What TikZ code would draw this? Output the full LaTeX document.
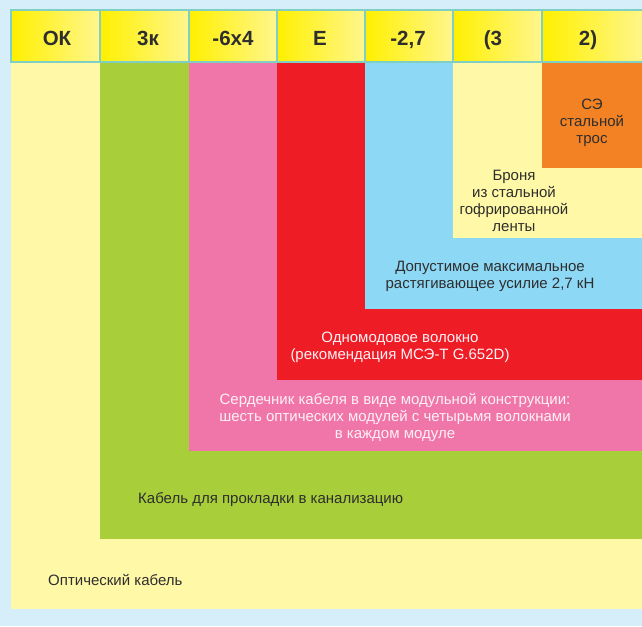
\documentclass[tikz,border=0pt]{standalone}
\usepackage{fontspec}
\setmainfont{Liberation Sans}
\definecolor{bgblue}{HTML}{D5EEFA}
\definecolor{cream}{HTML}{FFF8A6}
\definecolor{cgreen}{HTML}{A8CF3A}
\definecolor{cpink}{HTML}{F076AA}
\definecolor{cred}{HTML}{EE1D25}
\definecolor{cblue}{HTML}{8DD8F5}
\definecolor{corange}{HTML}{F28223}
\definecolor{hborder}{HTML}{80CFC5}
\definecolor{hyelA}{HTML}{FFF000}
\definecolor{hyelB}{HTML}{FFF68E}
\definecolor{dtext}{HTML}{2E2E2E}
\definecolor{ltext}{HTML}{FFF0F5}
\begin{document}
\begin{tikzpicture}[x=1pt,y=-1pt,
  hcell/.style={draw=hborder,line width=2pt,left color=hyelA,right color=hyelB},
  htext/.style={font=\fontsize{20.5}{22}\selectfont\bfseries,text=dtext,inner sep=0pt,anchor=base},
  btext/.style={font=\fontsize{15}{17}\selectfont,align=center,inner sep=0pt,text=dtext},
  wtext/.style={btext,text=ltext}]
\fill[bgblue] (0,0) rectangle (642,626);
\useasboundingbox (0,0) rectangle (642,626);
% nested regions
\fill[cream]   (11,63) rectangle (642,609);
\fill[cgreen]  (100,63) rectangle (642,539);
\fill[cpink]   (189,63) rectangle (642,451);
\fill[cred]    (277,63) rectangle (642,380);
\fill[cblue]   (365,63) rectangle (642,309);
\fill[cream]   (453,63) rectangle (642,238);
\fill[corange] (542,63) rectangle (642,168);
% header cells
\foreach \a/\b in {11/100,100/189,189/277,277/365,365/453,453/542,542/646}
  \path[hcell] (\a,10) rectangle (\b,62);
\node[htext] (t1) at (57,45.5) {ОК};
\node[htext] (t2) at (148,45.5) {3к};
\node[htext] (t3) at (233,45.5) {-6х4};
\node[htext] (t4) at (320,45.5) {Е};
\node[htext] (t5) at (408,45.5) {-2,7};
\node[htext] (t6) at (493,45.5) {(3};
\node[htext] (t7) at (588,45.5) {2)};
% labels
\node[btext] (l7) at (592,123) {СЭ\\стальной\\трос};
\node[btext] (l6) at (514,201) {Броня\\из стальной\\гофрированной\\ленты};
\node[btext] (l5) at (490,276) {Допустимое максимальное\\растягивающее усилие 2,7 кН};
\node[wtext] (l4) at (400,347) {Одномодовое волокно\\(рекомендация МСЭ-Т G.652D)};
\node[wtext] (l3) at (395,417) {Сердечник кабеля в виде модульной конструкции:\\шесть оптических модулей с четырьмя волокнами\\в каждом модуле};
\node[btext,anchor=west] (l2) at (138,500) {Кабель для прокладки в канализацию};
\node[btext,anchor=west] (l1) at (48,580) {Оптический кабель};
\end{tikzpicture}
\end{document}
